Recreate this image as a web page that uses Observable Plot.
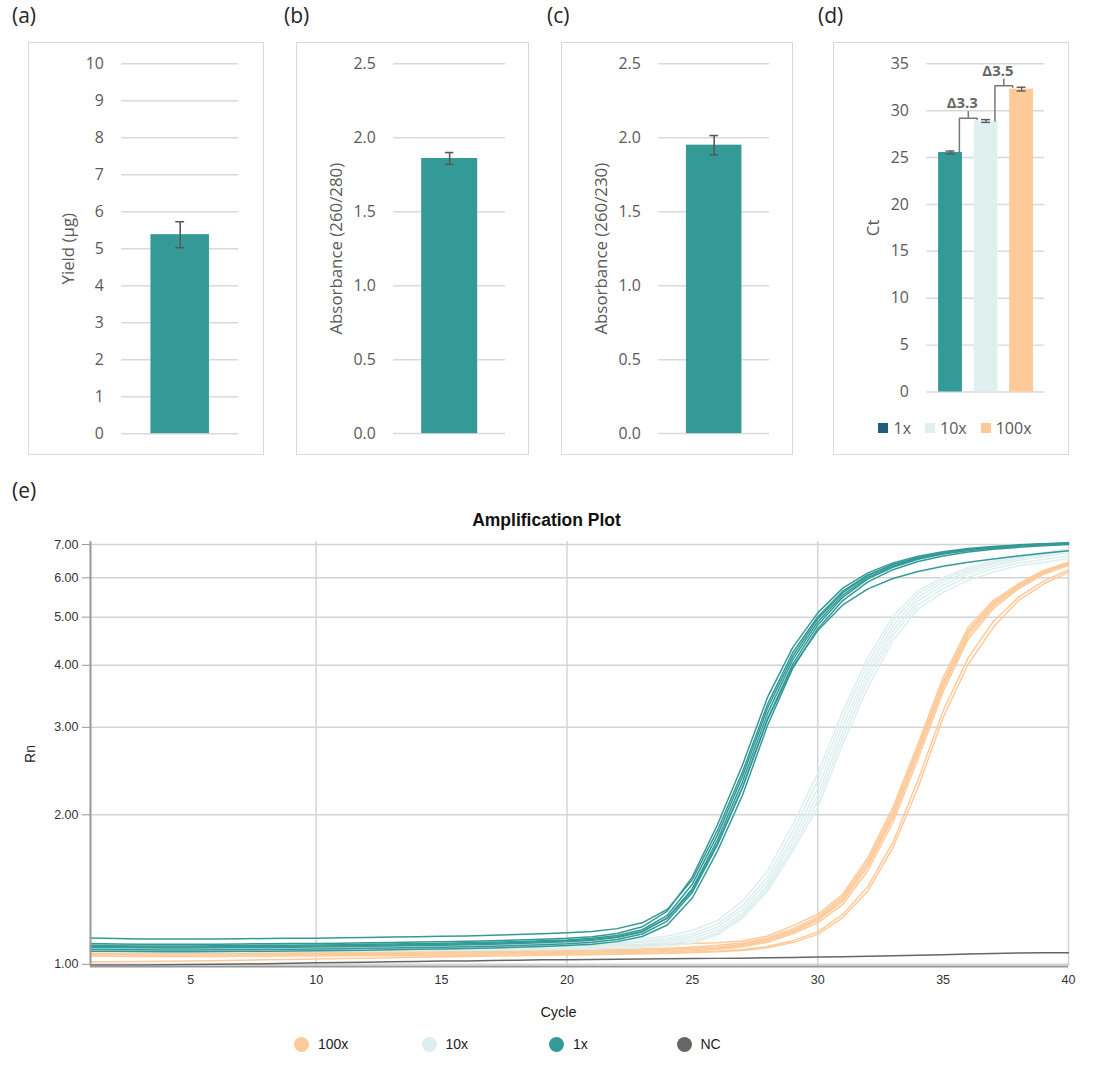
<!DOCTYPE html>
<html><head><meta charset="utf-8">
<script src="https://cdn.jsdelivr.net/npm/d3@7"></script>
<script src="https://cdn.jsdelivr.net/npm/@observablehq/plot@0.6"></script>
<style>
body{margin:0;background:#fff;}
#root{position:relative;width:1093px;height:1080px;background:#fff;font-family:"Open Sans",sans-serif;overflow:hidden;}
.plabel{position:absolute;font-size:21px;line-height:22px;color:#262626;font-family:"Open Sans",sans-serif;}
.box{position:absolute;border:1.5px solid #d9d9d9;box-sizing:border-box;}
.box svg{position:absolute;left:-1.5px;top:-1.5px;overflow:visible;}
#amp{position:absolute;left:0;top:530px;}
#amp svg{overflow:visible;}
#amp g[aria-label^="y-axis"] line, #amp g[aria-label="y-axis tick"] path{stroke:#999;}
#title{position:absolute;left:0;width:1093px;top:509px;text-align:center;font:bold 17.5px "Liberation Sans",Arial,sans-serif;color:#111;line-height:22px;}
#legE{position:absolute;left:294px;top:1035px;display:flex;font:14px "Liberation Sans",Arial,sans-serif;color:#222;}
#legE .it{width:127.5px;display:flex;align-items:center;height:18px;}
#legE .dot{width:15px;height:15px;border-radius:50%;margin-right:9px;}
#legD{position:absolute;left:0;width:100%;top:374px;display:flex;justify-content:center;font:16px "Open Sans",sans-serif;color:#595959;padding-left:8px;box-sizing:border-box;}
#legD .it{display:flex;align-items:center;margin:0 7px;}
#legD .sq{width:10px;height:10px;margin-right:5px;}
</style></head>
<body><div id="root"></div>
<script>
// ---------- data ----------
const panelLetters = ["(a)", "(b)", "(c)", "(d)", "(e)"];
const singleLabels = ["Yield (µg)", "Absorbance (260/280)", "Absorbance (260/230)"];
const singleValues = [5.38, 1.86, 1.95];
const singleErrors = [0.35, 0.04, 0.065];
const ticksYield = [0, 1, 2, 3, 4, 5, 6, 7, 8, 9, 10];
const ticksAbs = [0, 0.5, 1.0, 1.5, 2.0, 2.5];

const dilutions = ["1x", "10x", "100x"];
const ctValues = [25.55, 28.9, 32.3];
const ctErrors = [0.15, 0.15, 0.2];
const ctTicks = [0, 5, 10, 15, 20, 25, 30, 35];
const deltaLabels = ["Δ3.3", "Δ3.5"];
const bracketTops = [29.2, 32.65];
const barColors = ["#339a97", "#dff0ef", "#ffca99"];
const legendDColors = ["#1d5f7c", "#dff0ef", "#ffca99"];

const cycles = [1,2,3,4,5,6,7,8,9,10,11,12,13,14,15,16,17,18,19,20,21,22,23,24,25,26,27,28,29,30,31,32,33,34,35,36,37,38,39,40];
const rn1x = [
 [1.130,1.127,1.125,1.124,1.124,1.125,1.126,1.127,1.128,1.129,1.131,1.133,1.135,1.137,1.139,1.141,1.144,1.148,1.152,1.157,1.165,1.180,1.212,1.290,1.480,1.860,2.440,3.340,4.240,5.010,5.640,6.080,6.380,6.580,6.720,6.820,6.890,6.950,6.990,7.030],
 [1.101,1.099,1.098,1.097,1.097,1.098,1.099,1.100,1.101,1.102,1.103,1.105,1.107,1.109,1.111,1.113,1.116,1.119,1.123,1.128,1.137,1.154,1.190,1.280,1.500,1.910,2.520,3.450,4.340,5.100,5.720,6.140,6.430,6.630,6.770,6.870,6.940,6.990,7.030,7.060],
 [1.092,1.090,1.089,1.089,1.089,1.090,1.091,1.092,1.093,1.094,1.095,1.097,1.099,1.101,1.103,1.105,1.108,1.111,1.115,1.120,1.128,1.143,1.174,1.255,1.450,1.820,2.390,3.280,4.170,4.960,5.600,6.060,6.380,6.590,6.740,6.840,6.920,6.980,7.020,7.050],
 [1.082,1.081,1.080,1.079,1.079,1.080,1.081,1.082,1.083,1.084,1.085,1.087,1.089,1.091,1.093,1.095,1.098,1.101,1.105,1.110,1.118,1.132,1.162,1.240,1.420,1.780,2.330,3.200,4.100,4.890,5.540,6.010,6.340,6.560,6.720,6.830,6.910,6.970,7.010,7.040],
 [1.072,1.071,1.070,1.069,1.069,1.070,1.071,1.072,1.073,1.074,1.075,1.077,1.079,1.081,1.083,1.085,1.088,1.091,1.095,1.100,1.108,1.122,1.151,1.222,1.395,1.740,2.270,3.120,4.020,4.820,5.480,5.970,6.300,6.540,6.700,6.810,6.890,6.950,6.990,7.020],
 [1.063,1.062,1.061,1.060,1.060,1.061,1.062,1.063,1.064,1.065,1.066,1.068,1.070,1.072,1.074,1.076,1.079,1.082,1.086,1.091,1.098,1.111,1.138,1.200,1.360,1.690,2.190,3.030,3.940,4.740,5.400,5.890,6.230,6.470,6.640,6.760,6.850,6.910,6.960,7.000],
 [1.086,1.085,1.084,1.084,1.084,1.085,1.086,1.087,1.088,1.089,1.090,1.092,1.094,1.096,1.098,1.100,1.103,1.106,1.110,1.115,1.122,1.136,1.165,1.238,1.410,1.750,2.270,3.110,3.970,4.700,5.290,5.700,5.980,6.180,6.330,6.450,6.550,6.640,6.720,6.800]
];
const rn10x = [
 [1.096,1.095,1.094,1.094,1.094,1.095,1.095,1.096,1.097,1.098,1.099,1.100,1.101,1.102,1.103,1.104,1.105,1.106,1.108,1.110,1.113,1.118,1.126,1.140,1.170,1.225,1.340,1.540,1.910,2.420,3.230,4.140,5.020,5.650,6.010,6.290,6.490,6.650,6.750,6.860],
 [1.086,1.085,1.084,1.084,1.084,1.085,1.085,1.086,1.087,1.088,1.089,1.090,1.091,1.092,1.093,1.094,1.095,1.096,1.098,1.100,1.103,1.107,1.114,1.127,1.152,1.205,1.310,1.500,1.850,2.340,3.130,4.030,4.910,5.570,5.950,6.240,6.450,6.610,6.720,6.830],
 [1.079,1.078,1.077,1.077,1.077,1.078,1.078,1.079,1.080,1.081,1.082,1.083,1.084,1.085,1.086,1.087,1.088,1.089,1.091,1.093,1.096,1.100,1.106,1.117,1.140,1.188,1.290,1.470,1.800,2.260,3.030,3.920,4.800,5.480,5.880,6.180,6.400,6.560,6.680,6.790],
 [1.071,1.070,1.069,1.069,1.069,1.070,1.070,1.071,1.072,1.073,1.074,1.075,1.076,1.077,1.078,1.079,1.080,1.081,1.083,1.085,1.088,1.091,1.097,1.107,1.128,1.172,1.268,1.445,1.760,2.190,2.940,3.820,4.700,5.390,5.800,6.110,6.340,6.500,6.620,6.730],
 [1.064,1.063,1.062,1.062,1.062,1.063,1.063,1.064,1.065,1.066,1.067,1.068,1.069,1.070,1.071,1.072,1.073,1.074,1.076,1.078,1.080,1.083,1.088,1.097,1.115,1.158,1.252,1.425,1.720,2.130,2.860,3.720,4.600,5.300,5.710,6.020,6.260,6.430,6.530,6.640],
 [1.059,1.058,1.057,1.057,1.057,1.058,1.058,1.059,1.060,1.061,1.062,1.063,1.064,1.065,1.066,1.067,1.068,1.069,1.070,1.072,1.074,1.077,1.081,1.089,1.104,1.148,1.240,1.405,1.690,2.070,2.780,3.610,4.490,5.200,5.610,5.930,6.160,6.350,6.440,6.560]
];
const rn100x = [
 [1.085,1.084,1.083,1.083,1.083,1.083,1.084,1.084,1.085,1.085,1.086,1.086,1.087,1.087,1.088,1.088,1.089,1.089,1.090,1.091,1.092,1.093,1.095,1.098,1.101,1.105,1.114,1.140,1.195,1.261,1.384,1.640,2.070,2.780,3.780,4.770,5.400,5.830,6.210,6.450],
 [1.061,1.060,1.059,1.059,1.059,1.059,1.060,1.060,1.061,1.061,1.062,1.062,1.063,1.063,1.064,1.064,1.065,1.066,1.067,1.068,1.069,1.071,1.074,1.078,1.084,1.092,1.104,1.130,1.180,1.245,1.370,1.615,2.030,2.730,3.710,4.700,5.350,5.800,6.180,6.430],
 [1.056,1.055,1.054,1.054,1.054,1.054,1.055,1.055,1.056,1.056,1.057,1.057,1.058,1.058,1.059,1.059,1.060,1.061,1.062,1.063,1.064,1.066,1.068,1.072,1.077,1.084,1.097,1.122,1.170,1.235,1.355,1.595,2.000,2.690,3.660,4.650,5.310,5.770,6.160,6.410],
 [1.051,1.050,1.049,1.049,1.049,1.049,1.050,1.050,1.051,1.051,1.052,1.052,1.053,1.053,1.054,1.054,1.055,1.056,1.057,1.058,1.059,1.061,1.063,1.066,1.071,1.078,1.091,1.115,1.162,1.225,1.340,1.575,1.970,2.650,3.610,4.590,5.260,5.740,6.130,6.390],
 [1.046,1.045,1.044,1.044,1.044,1.044,1.045,1.045,1.046,1.046,1.047,1.047,1.048,1.048,1.049,1.049,1.050,1.051,1.052,1.053,1.054,1.055,1.057,1.060,1.064,1.072,1.085,1.108,1.152,1.212,1.320,1.545,1.930,2.590,3.540,4.520,5.200,5.700,6.100,6.360],
 [1.039,1.038,1.037,1.037,1.037,1.037,1.038,1.038,1.039,1.039,1.040,1.040,1.041,1.041,1.042,1.042,1.043,1.044,1.045,1.046,1.047,1.048,1.050,1.053,1.058,1.063,1.071,1.086,1.116,1.162,1.260,1.435,1.760,2.350,3.240,4.140,4.900,5.480,5.910,6.220],
 [1.012,1.012,1.013,1.014,1.015,1.017,1.019,1.021,1.023,1.025,1.027,1.029,1.031,1.033,1.035,1.037,1.039,1.041,1.043,1.045,1.047,1.049,1.051,1.053,1.056,1.060,1.066,1.080,1.106,1.149,1.242,1.405,1.718,2.270,3.140,4.020,4.770,5.400,5.830,6.160]
];
const rnNC = [
 [0.997,0.997,0.997,0.998,0.999,1.000,1.001,1.003,1.005,1.007,1.009,1.010,1.012,1.013,1.015,1.016,1.018,1.019,1.021,1.022,1.023,1.024,1.025,1.026,1.027,1.028,1.029,1.031,1.032,1.034,1.036,1.038,1.040,1.043,1.046,1.049,1.051,1.054,1.055,1.055]
];
const ampGroups = ["100x", "10x", "1x", "NC"];
const ampColors = ["#ffca99", "#dcefee", "#339a97", "#666666"];
const rnTicks = [1, 2, 3, 4, 5, 6, 7];
const rnDomain = [0.99, 7.1];
const cycleTicks = [5, 10, 15, 20, 25, 30, 35, 40];
const cycleGrid = [10, 20, 30, 40];

// ---------- layout ----------
const root = document.getElementById("root");
const letterPos = [[12, 4], [284, 4], [547, 4], [818, 4], [12, 479]];
panelLetters.forEach((t, i) => {
  const d = document.createElement("div");
  d.className = "plabel"; d.textContent = t;
  d.style.left = letterPos[i][0] + "px"; d.style.top = letterPos[i][1] + "px";
  root.appendChild(d);
});
function makeBox(left, top, w, h) {
  const b = document.createElement("div");
  b.className = "box";
  Object.assign(b.style, {left: left + "px", top: top + "px", width: w + "px", height: h + "px"});
  root.appendChild(b);
  return b;
}
const grey = "#595959";
const baseStyle = {fontFamily: "'Open Sans', sans-serif", fontSize: "16px", color: grey, background: "transparent", overflow: "visible"};

// ---------- panels a-c ----------
const boxes = [[28, 236, 94, 24], [296, 233, 98, 22], [561, 232, 98, 22]];
const tickSets = [ticksYield, ticksAbs, ticksAbs];
const tickFmts = [d => String(d), d => d.toFixed(1), d => d.toFixed(1)];
singleValues.forEach((v, i) => {
  const [left, w, ml, mr] = boxes[i];
  const box = makeBox(left, 42, w, 413);
  const data = [{x: 0, v, e: singleErrors[i]}];
  const ticks = tickSets[i];
  box.appendChild(Plot.plot({
    width: w, height: 413, marginLeft: ml, marginRight: mr, marginTop: 21.5, marginBottom: 18.5,
    x: {domain: [-0.5, 0.5], axis: null},
    y: {domain: [0, ticks[ticks.length - 1]], ticks, tickFormat: tickFmts[i], tickSize: 0, tickPadding: 18, label: null},
    style: baseStyle,
    marks: [
      Plot.ruleY(ticks, {stroke: "#d9d9d9", strokeWidth: 1.5}),
      Plot.rect(data, {x1: d => d.x - 0.25, x2: d => d.x + 0.25, y1: 0, y2: "v", fill: barColors[0]}),
      Plot.ruleX(data, {x: "x", y1: d => d.v - d.e, y2: d => d.v + d.e, stroke: grey, strokeWidth: 1.6}),
      Plot.ruleY(data, {y: d => d.v - d.e, x1: d => d.x - 0.038, x2: d => d.x + 0.038, stroke: grey, strokeWidth: 1.6}),
      Plot.ruleY(data, {y: d => d.v + d.e, x1: d => d.x - 0.038, x2: d => d.x + 0.038, stroke: grey, strokeWidth: 1.6}),
      Plot.text([singleLabels[i]], {frameAnchor: "left", dx: -(ml - 40), rotate: -90, textAnchor: "middle", lineAnchor: "middle", fontSize: 17, fill: grey})
    ]
  }));
});

// ---------- panel d ----------
{
  const box = makeBox(833, 42, 236, 413);
  const bars = dilutions.map((d, i) => ({i, name: d, v: ctValues[i], e: ctErrors[i]}));
  const br = deltaLabels.map((t, i) => ({i, t, top: bracketTops[i], left: ctValues[i], right: ctValues[i + 1] + ctErrors[i + 1]}));
  const brPath = br.flatMap(b => [
    {k: b.i, x: b.i + 0.25, y: b.left},
    {k: b.i, x: b.i + 0.25, y: b.top},
    {k: b.i, x: b.i + 0.75, y: b.top},
    {k: b.i, x: b.i + 0.75, y: b.right}
  ]);
  box.appendChild(Plot.plot({
    width: 236, height: 413, marginLeft: 94, marginRight: 23, marginTop: 21.5, marginBottom: 60.5,
    x: {domain: [-0.67, 2.65], axis: null},
    y: {domain: [0, 35], ticks: ctTicks, tickSize: 0, tickPadding: 18, label: null},
    color: {domain: dilutions, range: barColors},
    style: baseStyle,
    marks: [
      Plot.ruleY(ctTicks, {stroke: "#d9d9d9", strokeWidth: 1.5}),
      Plot.rect(bars, {x1: d => d.i - 0.335, x2: d => d.i + 0.335, y1: 0, y2: "v", fill: "name"}),
      Plot.ruleX(bars, {x: "i", y1: d => d.v - d.e, y2: d => d.v + d.e, stroke: grey, strokeWidth: 1.4}),
      Plot.ruleY(bars, {y: d => d.v - d.e, x1: d => d.i - 0.125, x2: d => d.i + 0.125, stroke: grey, strokeWidth: 1.4}),
      Plot.ruleY(bars, {y: d => d.v + d.e, x1: d => d.i - 0.125, x2: d => d.i + 0.125, stroke: grey, strokeWidth: 1.4}),
      Plot.line(brPath, {x: "x", y: "y", z: "k", stroke: "#777", strokeWidth: 1.5}),
      Plot.ruleX(br, {x: d => d.i + 0.5, y1: "top", y2: d => d.top + 0.7, stroke: "#777", strokeWidth: 1.5}),
      Plot.text(br, {x: d => d.i + 0.5, y: d => d.top + 1.6, text: "t", dx: -6, fontSize: 15, fontWeight: "bold", fill: "#666"}),
      Plot.text(["Ct"], {frameAnchor: "left", dx: -(94 - 40), rotate: -90, textAnchor: "middle", lineAnchor: "middle", fontSize: 17, fill: grey})
    ]
  }));
  const leg = document.createElement("div");
  leg.id = "legD";
  dilutions.forEach((d, i) => {
    const it = document.createElement("div"); it.className = "it";
    const sq = document.createElement("div"); sq.className = "sq"; sq.style.background = legendDColors[i];
    const tx = document.createElement("span"); tx.textContent = d;
    it.appendChild(sq); it.appendChild(tx); leg.appendChild(it);
  });
  box.appendChild(leg);
}

// ---------- panel e ----------
{
  const title = document.createElement("div");
  title.id = "title"; title.textContent = "Amplification Plot";
  root.appendChild(title);
  const sets = {"100x": rn100x, "10x": rn10x, "1x": rn1x, "NC": rnNC};
  const rows = [];
  ampGroups.forEach(g => sets[g].forEach((rep, r) => rep.forEach((v, c) => rows.push({group: g, id: g + "-" + r, cycle: cycles[c], rn: v}))));
  const holder = document.createElement("div");
  holder.id = "amp";
  root.appendChild(holder);
  holder.appendChild(Plot.plot({
    width: 1093, height: 480, marginLeft: 90, marginRight: 25, marginTop: 11, marginBottom: 44,
    x: {domain: [1, 40], ticks: cycleTicks, tickSize: 0, tickPadding: 9, label: null},
    y: {type: "log", domain: rnDomain, ticks: rnTicks, tickFormat: d => d.toFixed(2), tickSize: 8, tickPadding: 4, label: null},
    color: {domain: ampGroups, range: ampColors},
    style: {fontFamily: "'Liberation Sans', Arial, sans-serif", fontSize: "12.5px", color: "#333", background: "transparent", overflow: "visible"},
    marks: [
      Plot.ruleY(rnTicks, {stroke: "#d4d4d4", strokeWidth: 1.5}),
      Plot.ruleX(cycleGrid, {stroke: "#d4d4d4", strokeWidth: 1.5}),
      Plot.line(rows, {x: "cycle", y: "rn", z: "id", stroke: "group", strokeWidth: 1.5}),
      Plot.ruleX([cycles[0]], {stroke: "#999", strokeWidth: 2}),
      Plot.ruleY([rnDomain[0]], {stroke: "#999", strokeWidth: 2}),
      Plot.text(["Rn"], {frameAnchor: "left", dx: -60, rotate: -90, textAnchor: "middle", lineAnchor: "middle", fontSize: 14, fill: "#222"}),
      Plot.text(["Cycle"], {frameAnchor: "bottom", dx: -21, dy: 46, textAnchor: "middle", lineAnchor: "middle", fontSize: 14.5, fill: "#222"})
    ]
  }));
  const leg = document.createElement("div");
  leg.id = "legE";
  ampGroups.forEach((g, i) => {
    const it = document.createElement("div"); it.className = "it";
    const dot = document.createElement("div"); dot.className = "dot"; dot.style.background = ampColors[i];
    const tx = document.createElement("span"); tx.textContent = g;
    it.appendChild(dot); it.appendChild(tx); leg.appendChild(it);
  });
  root.appendChild(leg);
}
</script></body></html>
